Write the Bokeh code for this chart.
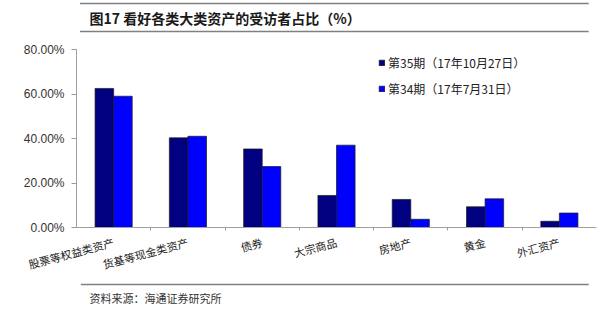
from bokeh.plotting import figure
from bokeh.models import ColumnDataSource, Range1d, FixedTicker, Legend, LegendItem
from bokeh.layouts import column
from bokeh.core.properties import value
from bokeh.embed import file_html
from bokeh.resources import INLINE
import math

# ---- data ----
categories = ["股票等权益类资产", "货基等现金类资产", "债券", "大宗商品", "房地产", "黄金", "外汇资产"]
series_35 = [62.5, 40.3, 35.3, 14.4, 12.6, 9.3, 2.8]   # 第35期（17年10月27日）
series_34 = [59.0, 41.0, 27.4, 37.0, 3.7, 12.9, 6.5]   # 第34期（17年7月31日）
series_names = ["第35期（17年10月27日）", "第34期（17年7月31日）"]
y_ticks = [0, 20, 40, 60, 80]
y_tick_labels = ["0.00%", "20.00%", "40.00%", "60.00%", "80.00%"]
title_text = "图17 看好各类大类资产的受访者占比（%）"
source_text = "资料来源：海通证券研究所"

# ---- layout constants ----
W = 600
TOP_H, MAIN_H, BOT_H = 36, 246, 28
FL, FR = 76, 596          # frame left / right (px)
FT, FB = 13, 54           # main figure top / bottom borders
CJK = "Noto Sans CJK SC"
RULE = "#808080"


def deco_figure(h):
    f = figure(width=W, height=h, output_backend="svg", toolbar_location=None,
               x_range=Range1d(0, W), y_range=Range1d(h, 0),
               min_border=0, min_border_left=0, min_border_right=0,
               min_border_top=0, min_border_bottom=0)
    f.axis.visible = False
    f.grid.visible = False
    f.outline_line_color = None
    f.background_fill_color = "white"
    f.border_fill_color = "white"
    return f


# top: title with rules
top = deco_figure(TOP_H)
top.segment(x0=[4, 4], y0=[3, 31], x1=[591, 591], y1=[3, 31],
            line_color=RULE, line_width=1.5)
top.text(x=[15], y=[17], text=[title_text], text_font=value(CJK),
         text_font_size="14px", text_font_style="bold", text_color="#1a1a1a",
         text_baseline="middle", text_align="left")

# main chart
n = len(categories)
centers = [i + 0.5 for i in range(n)]
bw = 0.25

p = figure(width=W, height=MAIN_H, output_backend="svg", toolbar_location=None,
           x_range=Range1d(0, n), y_range=Range1d(0, 80),
           min_border_left=FL, min_border_right=W - FR,
           min_border_top=FT, min_border_bottom=FB)
p.outline_line_color = None
p.grid.visible = False
p.background_fill_color = "white"
p.border_fill_color = "white"

src = ColumnDataSource(dict(
    x35=[c - bw / 2 for c in centers], x34=[c + bw / 2 for c in centers],
    v35=series_35, v34=series_34))
r35 = p.vbar(x="x35", top="v35", width=bw, source=src, fill_color="#000080",
             line_color="#1a1a1a", line_width=0.7)
r34 = p.vbar(x="x34", top="v34", width=bw, source=src, fill_color="#0000FF",
             line_color="#1a1a1a", line_width=0.7)

xa = p.xaxis[0]
xa.ticker = FixedTicker(ticks=centers, minor_ticks=list(range(1, n)))
xa.major_label_overrides = {c: lab for c, lab in zip(centers, categories)}
xa.major_tick_line_color = None
xa.minor_tick_line_color = "#999999"
xa.minor_tick_out = 3
xa.minor_tick_in = 0
xa.axis_line_color = "#a0a0a0"
xa.major_label_orientation = math.radians(15)
xa.major_label_text_font = CJK
xa.major_label_text_font_size = "11px"
xa.major_label_text_color = "#222222"
xa.major_label_standoff = 8

ya = p.yaxis[0]
ya.ticker = FixedTicker(ticks=y_ticks)
ya.major_label_overrides = {t: l for t, l in zip(y_ticks, y_tick_labels)}
ya.minor_tick_line_color = None
ya.major_tick_out = 5
ya.major_tick_in = 0
ya.major_tick_line_color = "#999999"
ya.axis_line_color = "#a0a0a0"
ya.major_label_text_font = "Liberation Sans"
ya.major_label_text_font_size = "12px"
ya.major_label_text_color = "#333333"
ya.major_label_standoff = 7

# legend: location = bottom-left corner in px from frame bottom-left
frame_h = MAIN_H - FT - FB
legend = Legend(items=[LegendItem(label=series_names[0], renderers=[r35]),
                       LegendItem(label=series_names[1], renderers=[r34])],
                location=(378 - FL, frame_h - 49), orientation="vertical",
                glyph_width=7, glyph_height=7, label_height=12, spacing=9,
                label_standoff=3, padding=0, margin=0,
                border_line_color=None, background_fill_alpha=0,
                label_text_font=CJK, label_text_font_size="12px",
                label_text_color="#222222")
p.add_layout(legend)

# bottom: rule and source
bot = deco_figure(BOT_H)
bot.segment(x0=[5], y0=[2], x1=[591], y1=[2], line_color=RULE, line_width=1.5)
bot.text(x=[15], y=[15], text=[source_text], text_font=value(CJK),
         text_font_size="11px", text_color="#333333",
         text_baseline="middle", text_align="left")

layout = column(top, p, bot, spacing=0)
open("out.html", "w").write(file_html(layout, INLINE))
